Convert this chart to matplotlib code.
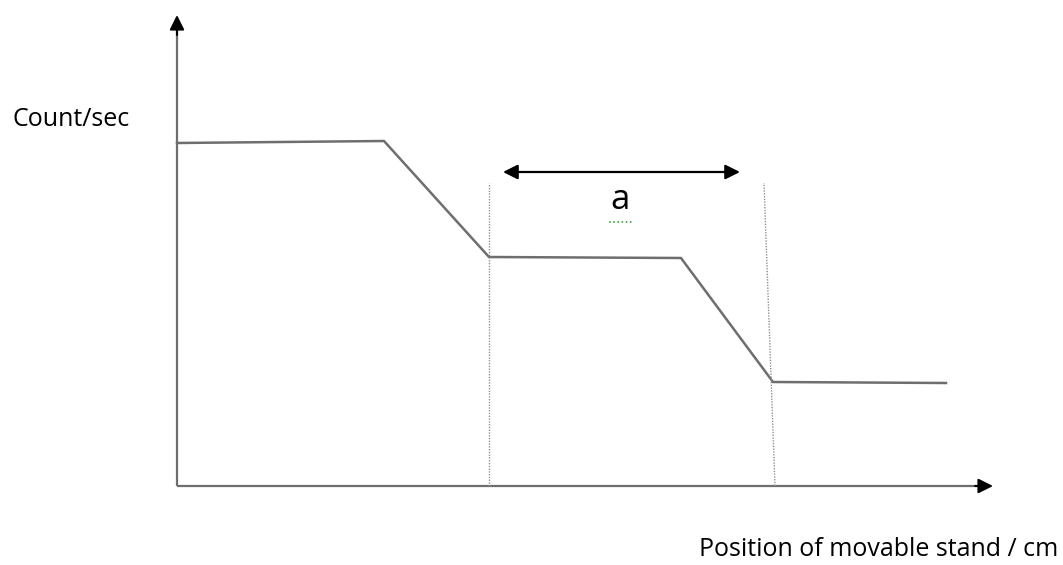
import numpy as np
import matplotlib.pyplot as plt

# schematic: count rate vs position, origin of the axes at (0, 0)
position = [0, 207, 312, 504, 596, 769]
count = [343, 345, 229, 228, 104, 103]

# dotted markers bounding the plateau width "a"
mark_bottom = [312, 598]
mark_top = [312, 587]
mark_y = [0, 303]

arrow_a = (326, 563)
arrow_a_y = 314

x_axis_end = 816
y_axis_end = 471

fig = plt.figure(figsize=(10.63, 5.65), dpi=100)
ax = fig.add_axes([0, 0, 1, 1])
ax.set_xlim(-177, 886)
ax.set_ylim(-79, 486)
ax.axis('off')

grey = '#6e6e6e'

# axes with arrowheads
ax.plot([0, x_axis_end - 14], [0, 0], color=grey, lw=1.6, solid_capstyle='butt')
ax.plot([0, 0], [0, y_axis_end - 16], color=grey, lw=1.6, solid_capstyle='butt')
ax.annotate('', xy=(x_axis_end, 0), xytext=(x_axis_end - 18, 0),
            arrowprops=dict(arrowstyle='-|>', color='black', lw=1.5, mutation_scale=22,
                            shrinkA=0, shrinkB=0))
ax.annotate('', xy=(0, y_axis_end), xytext=(0, y_axis_end - 20),
            arrowprops=dict(arrowstyle='-|>', color='black', lw=1.5, mutation_scale=22,
                            shrinkA=0, shrinkB=0))

# curve
ax.plot(position, count, color=grey, lw=1.8)

# dotted vertical markers
for xb, xt in zip(mark_bottom, mark_top):
    ax.plot([xb, xt], mark_y, color='#909090', lw=1.0, ls=(0, (1, 1)))

# width arrow
ax.annotate('', xy=(arrow_a[1], arrow_a_y), xytext=(arrow_a[0], arrow_a_y),
            arrowprops=dict(arrowstyle='<|-|>', color='black', lw=1.6, mutation_scale=22,
                            shrinkA=0, shrinkB=0))
ax.text(443, 277, 'a', fontsize=25, family='Open Sans', ha='center', va='baseline')
ax.plot([432, 456], [264, 264], color='#3aa63a', lw=1.2, ls=(0, (1, 1.5)))

ax.text(-165, 367, 'Count/sec', fontsize=18, family='Open Sans', ha='left', va='center')
ax.text(881, -64, 'Position of movable stand / cm', fontsize=18, family='Open Sans',
        ha='right', va='center')

fig.savefig('out.png', dpi=100)
